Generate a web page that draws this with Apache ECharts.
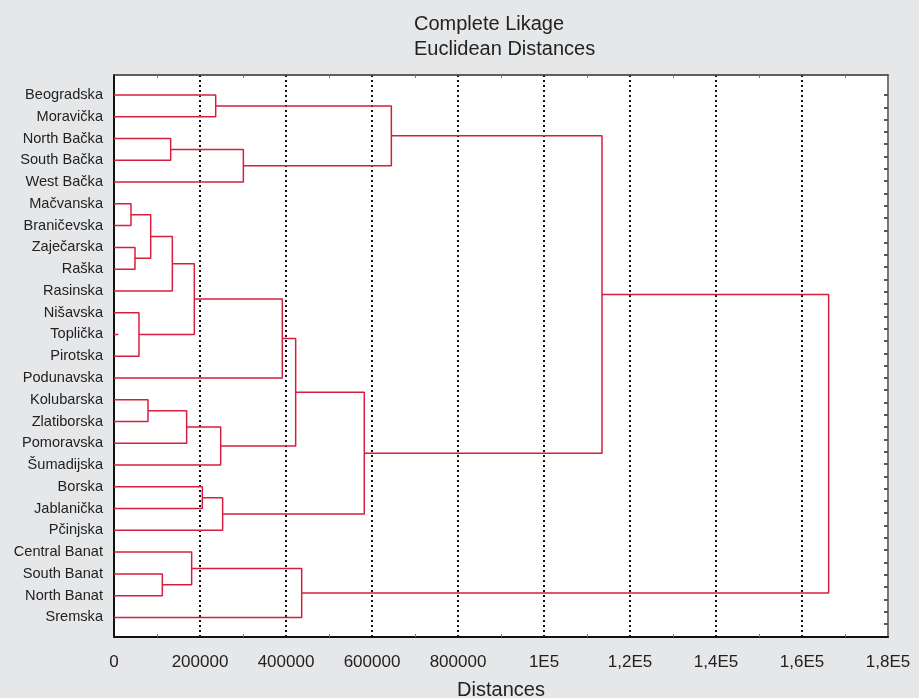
<!DOCTYPE html>
<html>
<head>
<meta charset="utf-8">
<script src="https://cdn.jsdelivr.net/npm/echarts@6/dist/echarts.min.js"></script>
<style>
html,body{margin:0;padding:0;background:#e6e7e9;}
#chart{width:919px;height:698px;}
</style>
</head>
<body>
<div id="chart"></div>
<script>
// Leaves (top to bottom)
const leaves = [
  "Beogradska","Moravička","North Bačka","South Bačka","West Bačka",
  "Mačvanska","Braničevska","Zaječarska","Raška","Rasinska",
  "Nišavska","Toplička","Pirotska","Podunavska",
  "Kolubarska","Zlatiborska","Pomoravska","Šumadijska",
  "Borska","Jablanička","Pčinjska",
  "Central Banat","South Banat","North Banat","Sremska"
];
// Merges: [childA, childB, linkage distance]; ids < 25 are leaves, id 25+k is merge k
const merges = [
  [0, 1, 236500],     // 25
  [2, 3, 131800],     // 26
  [26, 4, 300800],    // 27
  [25, 27, 645000],   // 28
  [5, 6, 39500],      // 29
  [7, 8, 48800],      // 30
  [29, 30, 85300],    // 31
  [31, 9, 135700],    // 32
  [10, 12, 58100],    // 33
  [32, 33, 186800],   // 34
  [34, 13, 391400],   // 35
  [14, 15, 79100],    // 36
  [36, 16, 169000],   // 37
  [37, 17, 248100],   // 38
  [35, 38, 422500],   // 39
  [18, 19, 205400],   // 40
  [40, 20, 252700],   // 41
  [39, 41, 582100],   // 42
  [28, 42, 1134900],  // 43
  [22, 23, 112400],   // 44
  [21, 44, 180600],   // 45
  [45, 24, 436500],   // 46
  [43, 46, 1662000]   // 47
];
// Leaf with an isolated short stub: [leaf index, length]
const stubs = [[11, 10000]];
const xTickLabels = ["0","200000","400000","600000","800000","1E5","1,2E5","1,4E5","1,6E5","1,8E5"];
const titleLines = ["Complete Likage","Euclidean Distances"];
const xName = "Distances";

const n = leaves.length;
const pos = [], hgt = [];
for (let i = 0; i < n; i++) { pos.push(i); hgt.push(0); }
const pts = [];
merges.forEach(m => {
  const [a, b, h] = m;
  pts.push([hgt[a], pos[a]], [h, pos[a]], [h, pos[b]], [hgt[b], pos[b]], '-');
  pos.push((pos[a] + pos[b]) / 2);
  hgt.push(h);
});
stubs.forEach(s => { pts.push([0, s[0]], [s[1], s[0]], '-'); });

const yMin = -0.92, yMax = 24.9;
const leafIdx = leaves.map((_, i) => i);
const rightTicks = [];
for (let k = 0; k <= 43; k++) rightTicks.push(k * 24.3 / 43);

const FONT = "Liberation Sans, Arial, sans-serif";
const chart = echarts.init(document.getElementById('chart'));
chart.setOption({
  backgroundColor: '#e6e7e9',
  animation: false,
  title: {
    text: titleLines.join('\n'),
    left: 409, top: 7,
    textStyle: { fontFamily: FONT, fontSize: 20, fontWeight: 'normal', color: '#222', lineHeight: 25 }
  },
  grid: {
    left: 114, right: 31, top: 75, bottom: 61,
    outerBoundsMode: 'none', containLabel: false,
    show: true, backgroundColor: '#ffffff', borderColor: '#666', borderWidth: 1
  },
  xAxis: [{
    type: 'value', position: 'bottom',
    min: 0, max: 1800000, interval: 200000,
    name: xName, nameLocation: 'middle', nameGap: 43,
    nameTextStyle: { fontFamily: FONT, fontSize: 20, color: '#222' },
    axisLine: { show: true, onZero: false, lineStyle: { color: '#111', width: 2 } },
    axisTick: { show: true, inside: true, length: 0 },
    minorTick: { show: true, splitNumber: 2, length: 3, lineStyle: { color: '#777', width: 1 } },
    axisLabel: {
      fontFamily: FONT, fontSize: 17, color: '#222', margin: 17,
      formatter: v => xTickLabels[Math.round(v / 200000)]
    },
    splitLine: { show: true, lineStyle: { color: '#111', width: 2, type: [2, 3] } }
  }, {
    type: 'value', position: 'top',
    min: 0, max: 1800000, interval: 200000,
    axisLine: { show: true, onZero: false, lineStyle: { color: '#444', width: 1.5 } },
    axisTick: { show: true, inside: true, length: 0 },
    minorTick: { show: true, splitNumber: 2, length: 3, lineStyle: { color: '#777', width: 1 } },
    axisLabel: { show: false },
    splitLine: { show: false }
  }],
  yAxis: [{
    type: 'value', position: 'left', inverse: true,
    min: yMin, max: yMax,
    axisLine: { show: true, onZero: false, lineStyle: { color: '#111', width: 2 } },
    axisTick: { show: false },
    axisLabel: {
      customValues: leafIdx,
      fontFamily: FONT, fontSize: 14.6, color: '#222', margin: 11,
      formatter: v => leaves[Math.round(v)]
    },
    splitLine: { show: false }
  }, {
    type: 'value', position: 'right', inverse: true,
    min: yMin, max: yMax,
    axisLine: { show: true, onZero: false, lineStyle: { color: '#777', width: 2 } },
    axisTick: { show: true, inside: true, length: 4, customValues: rightTicks,
                lineStyle: { color: '#555', width: 2 } },
    axisLabel: { show: false },
    splitLine: { show: false }
  }],
  series: [{
    type: 'line',
    xAxisIndex: 0, yAxisIndex: 0,
    data: pts,
    showSymbol: false,
    connectNulls: false,
    lineStyle: { color: '#d61f3d', width: 1.5 },
    silent: true
  }]
});
</script>
</body>
</html>
